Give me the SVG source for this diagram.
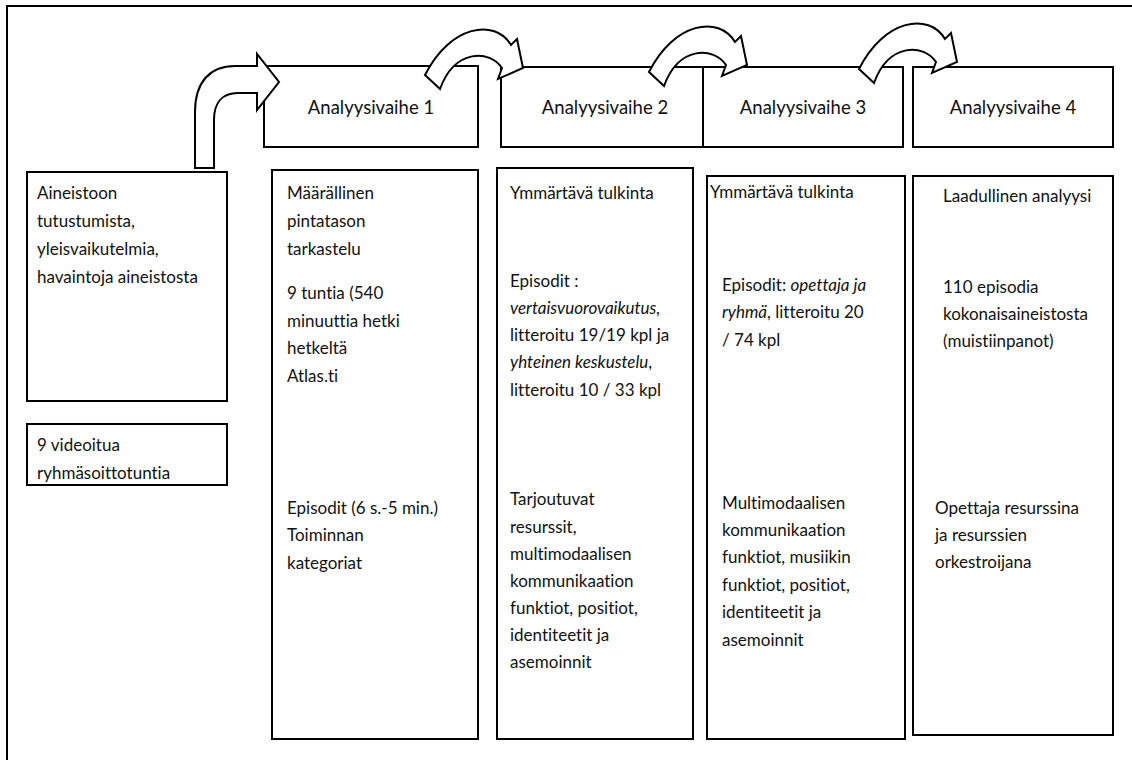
<svg xmlns="http://www.w3.org/2000/svg" width="1132" height="760" viewBox="0 0 1132 760">
<style>
.box{fill:#fff;stroke:#000;stroke-width:2}
.arr{fill:#fff;stroke:#000;stroke-width:2;stroke-linejoin:miter}
.t{font-family:Lato,"Liberation Sans",sans-serif;font-size:17px;fill:#111;font-variant-ligatures:none}
.h{font-family:Lato,"Liberation Sans",sans-serif;font-size:18.5px;fill:#111;text-anchor:middle;font-variant-ligatures:none}
.i{font-style:italic}
</style>
<defs>
<path id="curv" d="M425,75 C450,25 495,18 511,45 L517,39 L523,68 L498,79 L502,68 C490,50 455,48 440,89 Z"/>
</defs>
<rect x="0" y="0" width="1132" height="760" fill="#fff"/>
<path d="M7,760 V6 H1132" fill="none" stroke="#000" stroke-width="2"/>

<g id="h1"><rect class="box" x="264" y="66" width="214" height="81"/><text class="h" x="371" y="114">Analyysivaihe 1</text></g>
<g id="h2"><rect class="box" x="501" y="67" width="202" height="80"/><text class="h" x="605" y="114">Analyysivaihe 2</text></g>
<g id="h3"><rect class="box" x="703" y="67" width="200" height="80"/><text class="h" x="803" y="114">Analyysivaihe 3</text></g>
<g id="h4"><rect class="box" x="913" y="67" width="200" height="80"/><text class="h" x="1013" y="114">Analyysivaihe 4</text></g>

<g id="boxA"><rect class="box" x="27" y="172" width="200" height="229"/>
<text class="t" x="37" y="199">Aineistoon</text>
<text class="t" x="37" y="227">tutustumista,</text>
<text class="t" x="37" y="255">yleisvaikutelmia,</text>
<text class="t" x="37" y="283">havaintoja aineistosta</text></g>

<g id="boxB"><rect class="box" x="27" y="424" width="200" height="61"/>
<text class="t" x="37" y="451">9 videoitua</text>
<text class="t" x="37" y="479">ryhmäsoittotuntia</text></g>

<g id="c1"><rect class="box" x="272" y="170" width="206" height="569"/>
<text class="t" x="287" y="199">Määrällinen</text>
<text class="t" x="287" y="227">pintatason</text>
<text class="t" x="287" y="255">tarkastelu</text>
<text class="t" x="287" y="299">9 tuntia (540</text>
<text class="t" x="287" y="327">minuuttia hetki</text>
<text class="t" x="287" y="354">hetkeltä</text>
<text class="t" x="287" y="382">Atlas.ti</text>
<text class="t" x="287" y="514">Episodit (6 s.-5 min.)</text>
<text class="t" x="287" y="541">Toiminnan</text>
<text class="t" x="287" y="569">kategoriat</text></g>

<g id="c2"><rect class="box" x="497" y="168" width="196" height="571"/>
<text class="t" x="510" y="199">Ymmärtävä tulkinta</text>
<text class="t" x="510" y="287">Episodit :</text>
<text class="t i" x="510" y="314">vertaisvuorovaikutus,</text>
<text class="t" x="510" y="341">litteroitu 19/19 kpl ja</text>
<text class="t" x="510" y="368"><tspan class="i">yhteinen keskustelu</tspan>,</text>
<text class="t" x="510" y="396">litteroitu 10 / 33 kpl</text>
<text class="t" x="510" y="505">Tarjoutuvat</text>
<text class="t" x="510" y="533">resurssit,</text>
<text class="t" x="510" y="560">multimodaalisen</text>
<text class="t" x="510" y="587">kommunikaation</text>
<text class="t" x="510" y="614">funktiot, positiot,</text>
<text class="t" x="510" y="641">identiteetit ja</text>
<text class="t" x="510" y="668">asemoinnit</text></g>

<g id="c3"><rect class="box" x="707" y="176" width="198" height="563"/>
<text class="t" x="710" y="198">Ymmärtävä tulkinta</text>
<text class="t" x="722" y="291">Episodit: <tspan class="i">opettaja ja</tspan></text>
<text class="t" x="722" y="318"><tspan class="i">ryhmä</tspan>, litteroitu 20</text>
<text class="t" x="722" y="346">/ 74 kpl</text>
<text class="t" x="722" y="509">Multimodaalisen</text>
<text class="t" x="722" y="536">kommunikaation</text>
<text class="t" x="722" y="563">funktiot, musiikin</text>
<text class="t" x="722" y="591">funktiot, positiot,</text>
<text class="t" x="722" y="618">identiteetit ja</text>
<text class="t" x="722" y="646">asemoinnit</text></g>

<g id="c4"><rect class="box" x="913" y="176" width="200" height="559"/>
<text class="t" x="943" y="202">Laadullinen analyysi</text>
<text class="t" x="943" y="293">110 episodia</text>
<text class="t" x="943" y="320">kokonaisaineistosta</text>
<text class="t" x="943" y="347">(muistiinpanot)</text>
<text class="t" x="935" y="514">Opettaja resurssina</text>
<text class="t" x="935" y="541">ja resurssien</text>
<text class="t" x="935" y="568">orkestroijana</text></g>

<g id="connectors">
<path class="arr" d="M195,168 V112 C195,82 210,66 235,66 H257 V54 L279,82 L257,110 V93 H238 C222,93 214,103 214,120 V168 Z"/>
<use href="#curv" class="arr"/>
<use href="#curv" class="arr" transform="translate(224,-3)"/>
<use href="#curv" class="arr" transform="translate(434,-6)"/>
</g>
</svg>
